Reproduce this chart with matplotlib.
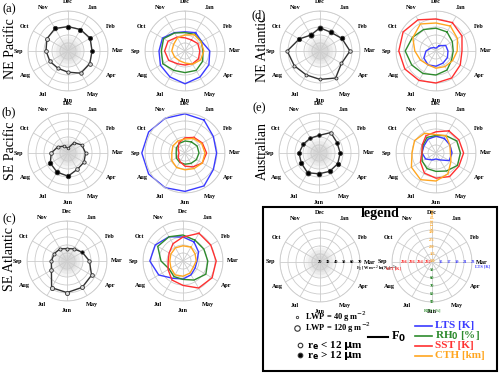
import numpy as np
import matplotlib
matplotlib.use('Agg')
import matplotlib.pyplot as plt
from matplotlib.patches import Rectangle
from matplotlib.lines import Line2D

plt.rcParams['font.family'] = ['Liberation Serif', 'DejaVu Serif']

##########################################################
# Data (radial values as fraction of the outer ring), Jan..Dec
months = ['Jan', 'Feb', 'Mar', 'Apr', 'May', 'Jun', 'Jul', 'Aug', 'Sep', 'Oct', 'Nov', 'Dec']
regions = ['NE Pacific', 'SE Pacific', 'SE Atlantic', 'NE Atlantic', 'Australian']
panels = ['(a)', '(b)', '(c)', '(d)', '(e)']

# F0 (black line), LWP [g m-2] for marker size, r_e > 12 um (filled)
f0_nep = [.62, .64, .60, .63, .64, .53, .50, .52, .55, .61, .65, .61]
f0_sep = [.30, .40, .44, .46, .47, .58, .55, .51, .42, .30, .20, .12]
f0_sea = [.35, .44, .56, .71, .76, .79, .77, .45, .39, .37, .35, .31]
f0_nea = [.54, .63, .75, .62, .78, .71, .69, .74, .82, .60, .46, .58]
f0_aus = [.59, .52, .53, .54, .53, .52, .57, .51, .50, .45, .43, .44]

lwp_nep = [90, 85, 80, 75, 70, 65, 65, 70, 75, 80, 90, 95]
lwp_sep = [50, 55, 60, 65, 75, 95, 100, 95, 75, 60, 50, 45]
lwp_sea = [60, 65, 70, 75, 80, 85, 85, 75, 65, 60, 60, 60]
lwp_nea = [100, 95, 70, 60, 55, 55, 55, 60, 65, 90, 110, 105]
lwp_aus = [70, 75, 80, 90, 95, 100, 105, 95, 85, 75, 70, 70]

big_nep = [1, 1, 1, 0, 0, 0, 0, 0, 0, 0, 1, 1]
big_sep = [0, 0, 0, 0, 0, 1, 1, 1, 0, 0, 0, 0]
big_sea = [0, 1, 0, 0, 0, 0, 0, 0, 0, 0, 0, 0]
big_nea = [1, 1, 0, 0, 0, 0, 0, 0, 0, 1, 1, 1]
big_aus = [0, 1, 1, 1, 1, 1, 1, 1, 1, 1, 1, 1]

# meteorology (coloured lines)
lts_nep = [.53, .48, .62, .69, .75, .82, .75, .71, .65, .65, .53, .48]
rh_nep = [.48, .47, .45, .51, .56, .54, .56, .64, .59, .62, .52, .46]
sst_nep = [.32, .37, .37, .39, .37, .35, .37, .47, .51, .49, .40, .33]
cth_nep = [.47, .46, .47, .45, .38, .30, .28, .30, .33, .33, .38, .40]

lts_sep = [.95, .82, .79, .82, .95, .96, 1.0, 1.05, 1.08, 1.05, 1.0, .98]
rh_sep = [.32, .35, .35, .33, .30, .28, .27, .25, .22, .25, .28, .30]
sst_sep = [.45, .50, .54, .50, .40, .33, .25, .20, .15, .20, .30, .38]
cth_sep = [.42, .48, .50, .50, .45, .42, .42, .38, .33, .35, .35, .35]

lts_sea = [.55, .45, .35, .35, .40, .45, .50, .70, .83, .80, .70, .60]
rh_sea = [.60, .60, .62, .66, .55, .46, .45, .40, .55, .73, .70, .65]
sst_sea = [.80, .80, .83, .84, .78, .61, .55, .43, .37, .40, .50, .60]
cth_sea = [.40, .35, .33, .30, .35, .38, .40, .35, .33, .35, .38, .38]

lts_nea = [.15, .28, .30, .33, .35, .38, .40, .35, .25, .15, .10, .07]
rh_nea = [.55, .47, .43, .45, .55, .60, .65, .70, .77, .68, .62, .57]
sst_nea = [.82, .75, .65, .70, .78, .80, .85, .90, .93, .95, .90, .80]
cth_nea = [.72, .62, .53, .48, .45, .43, .40, .45, .53, .67, .78, .70]

lts_aus = [.42, .40, .40, .38, .20, .15, .20, .30, .35, .35, .40, .42]
rh_aus = [.50, .60, .61, .62, .52, .46, .45, .40, .35, .38, .45, .44]
sst_aus = [.64, .66, .69, .66, .68, .63, .58, .45, .35, .40, .50, .53]
cth_aus = [.50, .40, .36, .43, .60, .70, .77, .71, .60, .62, .57, .46]

# legend axis tick labels
f0_ticks = ['20', '30', '40', '50', '60', '70']
lts_ticks = ['15', '17', '19', '21', '23']
rh_ticks = ['50', '60', '70', '80', '90']
sst_ticks = ['292', '294', '296', '298']
cth_ticks = ['1.0', '1.5', '2.0', '2.5', '3.0']

blue, green, red, orange = '#3b3bff', '#2e8b2e', '#ff3030', '#ffa620'
##########################################################
W, H = 500, 376
theta = np.deg2rad(30 * np.arange(1, 13))
tclose = np.append(theta, theta[0])

fig = plt.figure(figsize=(5, 3.76), dpi=100)


def px(x, y):
    return x / W, 1 - y / H


def polar_ax(cx, cy, R=40):
    ax = fig.add_axes([(cx - R) / W, 1 - (cy + R) / H, 2 * R / W, 2 * R / H],
                      projection='polar')
    ax.set_theta_zero_location('N')
    ax.set_theta_direction(-1)
    ax.set_ylim(0, 1)
    ax.set_yticks([0.2, 0.4, 0.6, 0.8, 1.0])
    ax.set_yticklabels([])
    ax.set_xticks(theta)
    ax.set_xticklabels(months, fontsize=4.4, fontweight='bold')
    ax.tick_params(axis='x', pad=-3.5)
    ax.grid(color='#cccccc', lw=0.6)
    ax.spines['polar'].set_color('#cccccc')
    ax.spines['polar'].set_linewidth(0.6)
    ax.set_facecolor('none')
    return ax


def shade(ax):
    t = np.linspace(0, 2 * np.pi, 120)
    for r in [0.38, 0.31, 0.24, 0.17]:
        ax.fill_between(t, 0, r, color='#888888', alpha=0.09, lw=0)


def f0_plot(ax, f0, lwp, big):
    shade(ax)
    ax.plot(tclose, np.append(f0, f0[0]), color='#333333', lw=1, clip_on=False)
    for t, r, l, b in zip(theta, f0, lwp, big):
        ax.plot(t, r, 'o', ms=0.6 + l / 36., mfc='black' if b else '#d8d8d8',
                mec='#333333', mew=0.6, clip_on=False)


def met_plot(ax, lts, rh, sst, cth):
    for vals, c in [(lts, blue), (rh, green), (sst, red), (cth, orange)]:
        ax.plot(tclose, np.append(vals, vals[0]), color=c, lw=1, clip_on=False)


# (x_left, x_right, y_center) in pixels
centers = [(68, 185, 51), (68, 185, 153), (67, 183, 261), (320, 436, 51), (319, 436, 153)]
f0s = [f0_nep, f0_sep, f0_sea, f0_nea, f0_aus]
lwps = [lwp_nep, lwp_sep, lwp_sea, lwp_nea, lwp_aus]
bigs = [big_nep, big_sep, big_sea, big_nea, big_aus]
mets = [(lts_nep, rh_nep, sst_nep, cth_nep), (lts_sep, rh_sep, sst_sep, cth_sep),
        (lts_sea, rh_sea, sst_sea, cth_sea), (lts_nea, rh_nea, sst_nea, cth_nea),
        (lts_aus, rh_aus, sst_aus, cth_aus)]
label_pos = [(9, 9), (9, 112), (9, 219), (259, 15), (259, 108)]

for i in range(5):
    xl, xr, yc = centers[i]
    f0_plot(polar_ax(xl, yc), f0s[i], lwps[i], bigs[i])
    met_plot(polar_ax(xr, yc), *mets[i])
    fig.text(*px(xl - 57, yc - 2), regions[i], rotation=90, fontsize=10,
             ha='center', va='center')
    fig.text(*px(*label_pos[i]), panels[i], fontsize=9, ha='center', va='center')

###############################################################################
# legend box
box = Rectangle(px(263, 371), (497 - 263) / W, (371 - 207) / H, transform=fig.transFigure,
                fill=False, ec='black', lw=1.5)
fig.patches.append(box)
fig.text(*px(380, 213), 'legend', fontsize=10, fontweight='bold', ha='center', va='center')

axl = polar_ax(320, 262)
shade(axl)
for k, lab in enumerate(f0_ticks):
    axl.text(np.pi / 2, 0.2 * k, lab, fontsize=3.2, fontweight='bold', ha='center',
             va='center')
fig.text(*px(356, 269), r'F$_0$ [W m$^{-2}$ ln(N$_d$)$^{-1}$]', fontsize=3.2,
         fontweight='bold', ha='left', va='center')

axr = polar_ax(432, 262)
for k, lab in enumerate(lts_ticks):
    axr.text(np.pi / 2, 0.22 + 0.2 * k, lab, color=blue, fontsize=3.2, fontweight='bold',
             ha='center', va='center')
for k, lab in enumerate(rh_ticks):
    axr.text(np.pi, 0.2 + 0.2 * k, lab, color=green, fontsize=3.2, fontweight='bold',
             ha='center', va='center')
for k, lab in enumerate(sst_ticks):
    axr.text(1.5 * np.pi, 0.1 + 0.2 * k, lab, color=red, fontsize=3.2, fontweight='bold',
             ha='center', va='center')
for k, lab in enumerate(cth_ticks):
    axr.text(0, 0.02 + 0.18 * k, lab, color=orange, fontsize=3.2, fontweight='bold',
             ha='center', va='center')
fig.text(*px(483, 267), 'LTS [K]', color=blue, fontsize=3.2, fontweight='bold',
         ha='center', va='center')
fig.text(*px(432, 311), r'RH$_0$ [%]', color=green, fontsize=3.2, fontweight='bold',
         ha='center', va='center')
fig.text(*px(394, 268), 'SST [K]', color=red, fontsize=3.2, fontweight='bold',
         ha='center', va='center')
fig.text(*px(432, 219), 'CTH [km]', color=orange, fontsize=3.2, fontweight='bold',
         ha='center', va='center', rotation=90)

# marker keys
fig.add_artist(Line2D([px(297, 0)[0]], [px(0, 317)[1]], marker='o', ms=0.6 + 40 / 36.,
                      mfc='white', mec='#333333', mew=0.6))
fig.text(*px(305, 317), r'LWP = 40 g m$^{-2}$', fontsize=6, fontweight='bold', va='center')
fig.add_artist(Line2D([px(297, 0)[0]], [px(0, 328)[1]], marker='o', ms=0.6 + 120 / 36.,
                      mfc='white', mec='#333333', mew=0.8))
fig.text(*px(305, 328), r'LWP = 120 g m$^{-2}$', fontsize=6, fontweight='bold', va='center')
fig.add_artist(Line2D([px(300, 0)[0]], [px(0, 345)[1]], marker='o', ms=3.3,
                      mfc='white', mec='#333333', mew=0.8))
fig.text(*px(307, 345), r'r$_\mathbf{e}$ < 12 $\mathbf{\mu}$m', fontsize=8, fontweight='bold',
         va='center')
fig.add_artist(Line2D([px(300, 0)[0]], [px(0, 355)[1]], marker='o', ms=3.3,
                      mfc='black', mec='#333333', mew=0.8))
fig.text(*px(307, 355), r'r$_\mathbf{e}$ > 12 $\mathbf{\mu}$m', fontsize=8, fontweight='bold',
         va='center')

# line keys
fig.add_artist(Line2D([px(368, 0)[0], px(388, 0)[0]], [px(0, 337)[1]] * 2, color='black', lw=1.5))
fig.text(*px(391, 337), r'F$_\mathbf{0}$', fontsize=9, fontweight='bold', va='center')
for y, c, lab in [(326, blue, 'LTS [K]'), (336, green, r'RH$_\mathbf{0}$ [%]'),
                  (346, red, 'SST [K]'), (356, orange, 'CTH [km]')]:
    fig.add_artist(Line2D([px(415, 0)[0], px(432, 0)[0]], [px(0, y)[1]] * 2, color=c, lw=1.2))
    fig.text(*px(435, y), lab, color=c, fontsize=8, fontweight='bold', va='center')

plt.savefig('out.png', dpi=100)
